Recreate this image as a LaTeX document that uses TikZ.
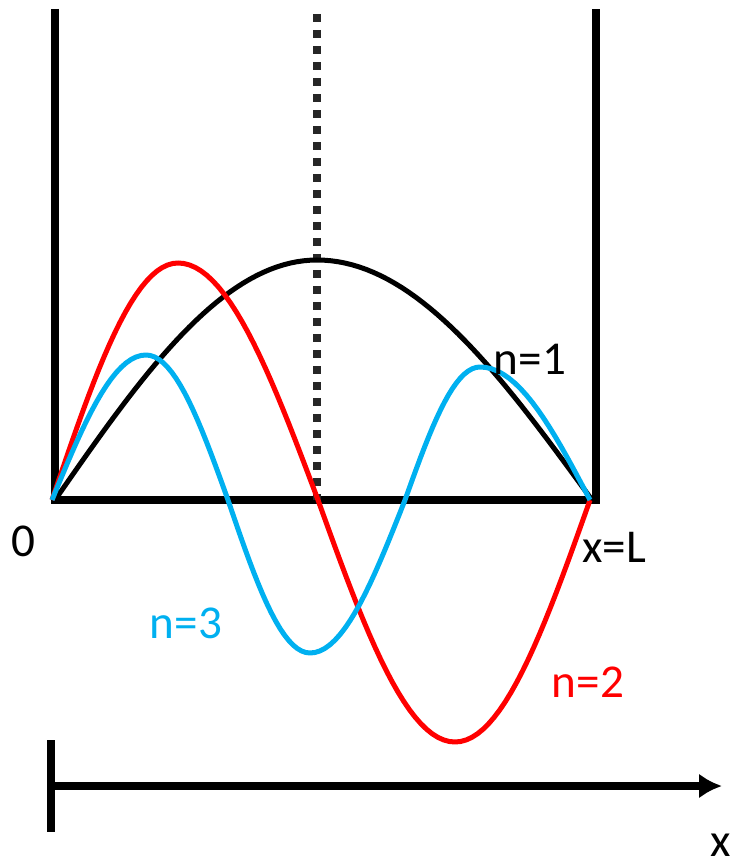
\documentclass[tikz,border=0pt]{standalone}
\usepackage{fontspec}
\setmainfont{Carlito}
\usetikzlibrary{arrows.meta}
\definecolor{wavered}{HTML}{FF0000}
\definecolor{waveblue}{HTML}{00B0F0}
\tikzset{
  wall/.style={line width=0.08cm, line join=miter},
  wave/.style={line width=0.05cm, line join=round},
  lbl/.style={font=\fontsize{13.4}{16}\selectfont, anchor=base, inner sep=0pt}
}
\begin{document}
\begin{tikzpicture}[x=0.01cm, y=-0.01cm]
\useasboundingbox (0,0) rectangle (740,865);
\coordinate (wallLtop) at (55,9);
\coordinate (wallRtop) at (596,9);
\coordinate (left) at (55,500);
\coordinate (right) at (596,500);
\coordinate (mid) at (317,500);
\coordinate (midtop) at (317,14);
% box
\draw[wall] (wallLtop) -- (left) -- (right) -- (wallRtop);
\draw[line width=0.08cm, black!85, dash pattern=on 0.08cm off 0.08cm] (midtop) -- (mid);
% n=1
\draw[wave] plot[domain=0:1, samples=40] ({55+262*\x},{500-240*sin(90*\x)})
  -- plot[domain=0:1, samples=40] ({317+275*\x},{500-240*cos(90*\x)});
% n=2
\draw[wave, wavered] plot[domain=0:1, samples=25] ({52+126*\x},{500-237*sin(90*\x)})
  -- plot[domain=0:1, samples=25] ({178+140*\x},{500-237*cos(90*\x)})
  -- plot[domain=0:1, samples=25] ({318+137*\x},{500+242*sin(90*\x)})
  -- plot[domain=0:1, samples=25] ({455+135*\x},{500+242*cos(90*\x)});
% n=3
\draw[wave, waveblue] plot[domain=0:1, samples=20] ({52+94*\x},{500-145*sin(90*\x)})
  -- plot[domain=0:1, samples=20] ({146+82*\x},{500-145*cos(90*\x)})
  -- plot[domain=0:1, samples=20] ({228+82*\x},{500+153*sin(90*\x)})
  -- plot[domain=0:1, samples=20] ({310+95*\x},{500+153*cos(90*\x)})
  -- plot[domain=0:1, samples=20] ({405+75*\x},{500-133*sin(90*\x)})
  -- plot[domain=0:1, samples=20] ({480+110*\x},{500-133*cos(90*\x)});
% labels
\node[lbl] (n1) at (530,375) {n=1};
\node[lbl, text=wavered] (n2) at (588,697) {n=2};
\node[lbl, text=waveblue] (n3) at (186,638) {n=3};
\node[lbl] (zero) at (23,557) {0};
\node[lbl] (xL) at (614,562) {x=L};
% axis
\coordinate (tickTop) at (51,740);
\coordinate (tickBot) at (51,832);
\coordinate (axisStart) at (51,786);
\coordinate (axisEnd) at (722,786);
\draw[line width=0.08cm] (tickTop) -- (tickBot);
\draw[line width=0.08cm, -{Latex[length=0.23cm, width=0.25cm]}] (axisStart) -- (axisEnd);
\node[lbl] (xlab) at (721,856) {x};
\end{tikzpicture}
\end{document}
